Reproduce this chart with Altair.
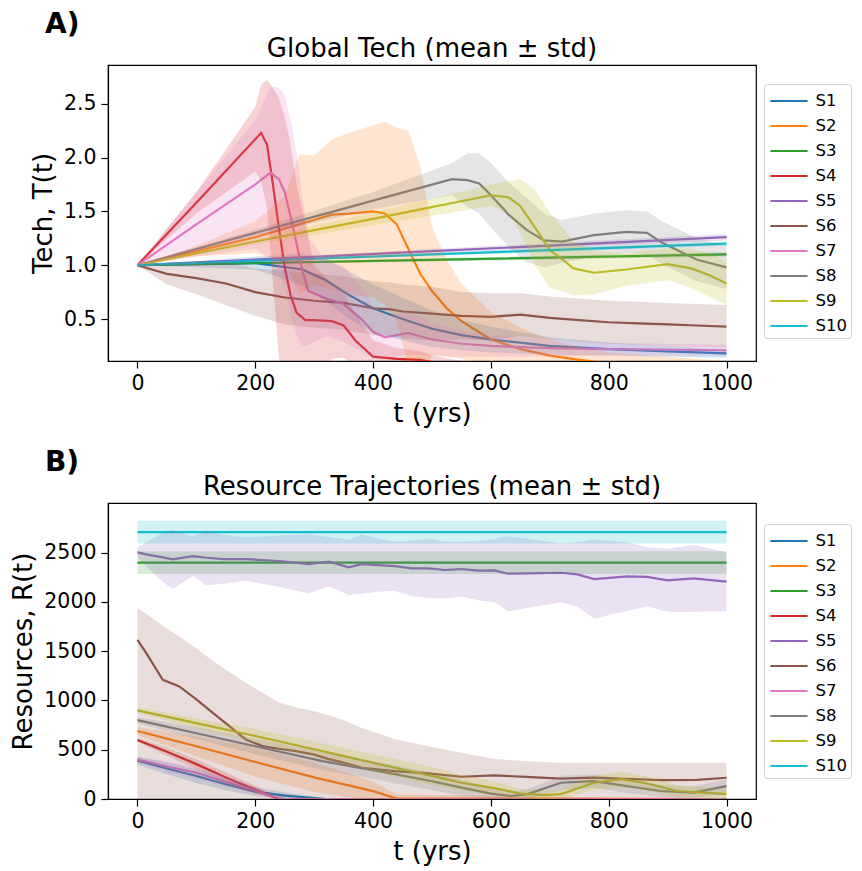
import altair as alt
import pandas as pd

SERIES = ["S1", "S2", "S3", "S4", "S5", "S6", "S7", "S8", "S9", "S10"]
COLORS = ["#1f77b4", "#ff7f0e", "#2ca02c", "#d62728", "#9467bd",
          "#8c564b", "#e377c2", "#7f7f7f", "#bcbd22", "#17becf"]

X_TICKS = [0, 200, 400, 600, 800, 1000]
A_Y_TICKS = [0.5, 1.0, 1.5, 2.0, 2.5]
B_Y_TICKS = [0, 500, 1000, 1500, 2000, 2500]

# ---------------- Panel A: Global Tech (mean, std) ----------------
A_T_S1 = [0, 100, 200, 240, 280, 320, 360, 400, 450, 500, 550, 600, 700, 800, 900, 1000]
A_M_S1 = [1.00, 1.01, 1.02, 0.99, 0.96, 0.86, 0.72, 0.60, 0.50, 0.41, 0.35, 0.31, 0.25, 0.22, 0.20, 0.18]
A_SD_S1 = [0.00, 0.03, 0.06, 0.10, 0.15, 0.20, 0.22, 0.22, 0.20, 0.17, 0.14, 0.12, 0.08, 0.06, 0.05, 0.04]

A_T_S2 = [0, 100, 200, 250, 275, 300, 330, 360, 400, 420, 440, 460, 480, 500, 525, 550, 600, 650, 700, 750, 800, 900, 1000]
A_M_S2 = [1.00, 1.13, 1.26, 1.34, 1.38, 1.42, 1.47, 1.48, 1.50, 1.48, 1.38, 1.15, 0.92, 0.76, 0.60, 0.48, 0.31, 0.22, 0.16, 0.12, 0.09, 0.07, 0.05]
A_SD_S2 = [0.00, 0.05, 0.15, 0.30, 0.65, 0.60, 0.70, 0.75, 0.80, 0.85, 0.90, 1.10, 1.00, 0.60, 0.45, 0.35, 0.25, 0.20, 0.15, 0.12, 0.10, 0.08, 0.06]

A_T_S3 = [0, 500, 1000]
A_M_S3 = [1.00, 1.05, 1.10]
A_SD_S3 = [0.00, 0.015, 0.02]

A_T_S4 = [0, 100, 200, 210, 220, 230, 240, 250, 260, 270, 285, 300, 330, 350, 370, 400, 440, 480, 500, 550, 1000]
A_M_S4 = [1.00, 1.58, 2.17, 2.23, 2.12, 1.75, 1.35, 0.98, 0.72, 0.56, 0.49, 0.49, 0.48, 0.44, 0.30, 0.15, 0.13, 0.12, 0.10, 0.06, 0.03]
A_SD_S4 = [0.00, 0.10, 0.30, 0.45, 0.60, 0.90, 1.20, 1.40, 1.40, 1.20, 0.90, 0.50, 0.35, 0.30, 0.25, 0.15, 0.10, 0.08, 0.06, 0.05, 0.03]

A_T_S5 = [0, 500, 1000]
A_M_S5 = [1.00, 1.13, 1.26]
A_SD_S5 = [0.00, 0.02, 0.03]

A_T_S6 = [0, 50, 100, 150, 200, 250, 300, 350, 400, 430, 450, 500, 550, 600, 650, 700, 750, 800, 850, 900, 950, 1000]
A_M_S6 = [1.00, 0.92, 0.88, 0.83, 0.75, 0.70, 0.67, 0.65, 0.60, 0.59, 0.57, 0.55, 0.53, 0.52, 0.54, 0.51, 0.49, 0.47, 0.46, 0.45, 0.44, 0.43]
A_SD_S6 = [0.00, 0.10, 0.15, 0.20, 0.22, 0.25, 0.25, 0.25, 0.25, 0.25, 0.25, 0.25, 0.22, 0.22, 0.20, 0.20, 0.20, 0.20, 0.20, 0.20, 0.20, 0.20]

A_T_S7 = [0, 100, 200, 226, 240, 250, 260, 270, 280, 290, 320, 350, 380, 400, 420, 460, 500, 550, 600, 700, 800, 1000]
A_M_S7 = [1.00, 1.38, 1.75, 1.86, 1.80, 1.68, 1.45, 1.20, 0.95, 0.76, 0.69, 0.64, 0.50, 0.38, 0.33, 0.37, 0.31, 0.27, 0.25, 0.23, 0.22, 0.21]
A_SD_S7 = [0.00, 0.30, 0.60, 0.80, 0.85, 0.90, 0.90, 0.85, 0.70, 0.50, 0.35, 0.35, 0.30, 0.25, 0.20, 0.20, 0.15, 0.12, 0.10, 0.08, 0.06, 0.05]

A_T_S8 = [0, 200, 400, 534, 560, 580, 600, 630, 660, 690, 720, 775, 830, 865, 890, 920, 950, 1000]
A_M_S8 = [1.00, 1.30, 1.60, 1.80, 1.79, 1.76, 1.65, 1.47, 1.33, 1.23, 1.22, 1.28, 1.31, 1.30, 1.21, 1.13, 1.05, 0.98]
A_SD_S8 = [0.00, 0.03, 0.08, 0.15, 0.25, 0.28, 0.30, 0.30, 0.30, 0.25, 0.20, 0.20, 0.20, 0.20, 0.20, 0.20, 0.20, 0.20]

A_T_S9 = [0, 200, 400, 600, 630, 650, 675, 700, 720, 740, 775, 830, 900, 940, 970, 1000]
A_M_S9 = [1.00, 1.22, 1.43, 1.65, 1.63, 1.55, 1.35, 1.14, 1.06, 0.97, 0.93, 0.96, 1.01, 0.97, 0.91, 0.83]
A_SD_S9 = [0.00, 0.03, 0.06, 0.10, 0.15, 0.25, 0.35, 0.35, 0.30, 0.25, 0.20, 0.15, 0.15, 0.18, 0.20, 0.20]

A_T_S10 = [0, 500, 1000]
A_M_S10 = [1.00, 1.10, 1.20]
A_SD_S10 = [0.00, 0.015, 0.02]

# ---------------- Panel B: Resources (mean, std) ----------------
B_T_S1 = [0, 50, 100, 150, 200, 250, 300, 320, 1000]
B_M_S1 = [390, 310, 233, 150, 75, 35, 10, 0, 0]
B_SD_S1 = [40, 60, 70, 60, 45, 30, 15, 0, 0]

B_T_S2 = [0, 100, 200, 300, 400, 440, 1000]
B_M_S2 = [690, 535, 375, 220, 80, 5, 0]
B_SD_S2 = [40, 100, 150, 150, 100, 40, 0]

B_T_S3 = [0, 500, 1000]
B_M_S3 = [2400, 2400, 2400]
B_SD_S3 = [115, 115, 115]

B_T_S4 = [0, 50, 100, 150, 200, 220, 240, 1000]
B_M_S4 = [600, 480, 354, 218, 95, 45, 0, 0]
B_SD_S4 = [20, 40, 50, 50, 40, 25, 0, 0]

B_T_S5 = [0, 15, 43, 60, 94, 117, 145, 184, 240, 291, 325, 359, 381, 409, 437, 466, 494, 522, 550, 578, 606, 629, 663, 719, 747, 775, 832, 865, 900, 944, 1000]
B_M_S5 = [2503, 2483, 2453, 2433, 2466, 2449, 2436, 2436, 2416, 2385, 2409, 2352, 2385, 2375, 2365, 2341, 2341, 2325, 2335, 2318, 2320, 2287, 2291, 2297, 2280, 2233, 2260, 2255, 2220, 2240, 2206]
B_SD_S5 = [50, 120, 250, 300, 200, 280, 250, 220, 260, 300, 250, 280, 300, 270, 250, 280, 300, 290, 280, 300, 320, 380, 350, 300, 330, 400, 350, 300, 320, 340, 300]

B_T_S6 = [0, 15, 43, 71, 100, 128, 156, 184, 212, 240, 269, 300, 325, 350, 381, 437, 494, 550, 606, 660, 719, 775, 830, 888, 950, 1000]
B_M_S6 = [1616, 1480, 1210, 1143, 1012, 874, 739, 604, 537, 510, 486, 450, 405, 370, 317, 283, 260, 226, 240, 225, 206, 216, 205, 192, 195, 216]
B_HI_S6 = [1937, 1880, 1760, 1650, 1530, 1400, 1290, 1180, 1080, 980, 930, 890, 850, 800, 720, 607, 536, 470, 405, 385, 368, 367, 367, 367, 367, 367]
B_LO_S6 = [0] * len(B_T_S6)

B_T_S7 = [0, 50, 100, 150, 200, 230, 250, 1000]
B_M_S7 = [400, 330, 266, 175, 85, 25, 0, 0]
B_SD_S7 = [30, 50, 60, 50, 35, 15, 0, 0]

B_T_S8 = [0, 100, 200, 314, 437, 500, 550, 600, 634, 662, 719, 775, 831, 888, 944, 1000]
B_M_S8 = [800, 668, 535, 385, 253, 180, 115, 55, 30, 50, 165, 182, 131, 81, 64, 131]
B_SD_S8 = [30, 60, 80, 90, 90, 90, 80, 60, 40, 50, 70, 70, 70, 60, 60, 70]

B_T_S9 = [0, 100, 200, 314, 437, 500, 550, 606, 650, 691, 719, 775, 821, 860, 916, 1000]
B_M_S9 = [900, 770, 640, 486, 317, 235, 165, 110, 55, 40, 50, 165, 202, 165, 81, 50]
B_SD_S9 = [30, 50, 70, 80, 90, 90, 80, 70, 50, 40, 50, 70, 80, 70, 60, 50]

B_T_S10 = [0, 500, 1000]
B_M_S10 = [2710, 2710, 2710]
B_SD_S10 = [115, 115, 115]


def sym(means, sds):
    return [m - s for m, s in zip(means, sds)], [m + s for m, s in zip(means, sds)]


A_SETS = [
    ("S1", A_T_S1, A_M_S1, *sym(A_M_S1, A_SD_S1)), ("S2", A_T_S2, A_M_S2, *sym(A_M_S2, A_SD_S2)),
    ("S3", A_T_S3, A_M_S3, *sym(A_M_S3, A_SD_S3)), ("S4", A_T_S4, A_M_S4, *sym(A_M_S4, A_SD_S4)),
    ("S5", A_T_S5, A_M_S5, *sym(A_M_S5, A_SD_S5)), ("S6", A_T_S6, A_M_S6, *sym(A_M_S6, A_SD_S6)),
    ("S7", A_T_S7, A_M_S7, *sym(A_M_S7, A_SD_S7)), ("S8", A_T_S8, A_M_S8, *sym(A_M_S8, A_SD_S8)),
    ("S9", A_T_S9, A_M_S9, *sym(A_M_S9, A_SD_S9)), ("S10", A_T_S10, A_M_S10, *sym(A_M_S10, A_SD_S10)),
]
B_SETS = [
    ("S1", B_T_S1, B_M_S1, *sym(B_M_S1, B_SD_S1)), ("S2", B_T_S2, B_M_S2, *sym(B_M_S2, B_SD_S2)),
    ("S3", B_T_S3, B_M_S3, *sym(B_M_S3, B_SD_S3)), ("S4", B_T_S4, B_M_S4, *sym(B_M_S4, B_SD_S4)),
    ("S5", B_T_S5, B_M_S5, *sym(B_M_S5, B_SD_S5)), ("S6", B_T_S6, B_M_S6, B_LO_S6, B_HI_S6),
    ("S7", B_T_S7, B_M_S7, *sym(B_M_S7, B_SD_S7)), ("S8", B_T_S8, B_M_S8, *sym(B_M_S8, B_SD_S8)),
    ("S9", B_T_S9, B_M_S9, *sym(B_M_S9, B_SD_S9)), ("S10", B_T_S10, B_M_S10, *sym(B_M_S10, B_SD_S10)),
]


def to_frame(sets):
    rows = []
    for name, ts, ms, los, his in sets:
        for t, m, lo, hi in zip(ts, ms, los, his):
            rows.append({"series": name, "t": t, "mean": m, "lo": lo, "hi": hi})
    return pd.DataFrame(rows)


FONT = "DejaVu Sans"
W, H = 648, 296


def panel(df, letter, title, ylab, ydom, yticks, yfmt, legend_y):
    cscale = alt.Scale(domain=SERIES, range=COLORS)
    legend = alt.Legend(
        title=None, orient="none", legendX=W + 8, legendY=legend_y,
        symbolType="M-1.55,0H1.55", symbolSize=576, symbolStrokeWidth=2.2,
        symbolOpacity=1, symbolOffset=8, labelFontSize=16.5, labelFont=FONT,
        labelColor="black", labelOffset=13, strokeColor="#d0d0d0",
        fillColor="white", padding=3.5, cornerRadius=3, rowPadding=3)
    xenc = alt.X("t:Q", scale=alt.Scale(domain=[-50, 1050], nice=False, zero=False),
                 axis=alt.Axis(values=X_TICKS, title="t (yrs)", format="d"))
    yaxis = alt.Axis(values=yticks, title=ylab, format=yfmt)
    yscale = alt.Scale(domain=ydom, nice=False, zero=False)
    base = alt.Chart(df)
    lines = base.mark_line(strokeWidth=2.2, clip=True).encode(
        x=xenc,
        y=alt.Y("mean:Q", scale=yscale, axis=yaxis),
        color=alt.Color("series:N", scale=cscale, legend=legend),
        detail="series:N",
    )
    bands = base.mark_area(opacity=0.2, clip=True).encode(
        x=xenc,
        y=alt.Y("lo:Q", scale=yscale, axis=yaxis),
        y2="hi:Q",
        color=alt.Color("series:N", scale=cscale, legend=legend),
        detail="series:N",
    )
    lab = alt.Chart(pd.DataFrame({"lab": [letter]})).mark_text(
        font=FONT, fontWeight="bold", fontSize=28, align="left",
        baseline="alphabetic", color="black").encode(
        text="lab:N", x=alt.value(-63), y=alt.value(-32))
    ttl = alt.Chart(pd.DataFrame({"lab": [title]})).mark_text(
        font=FONT, fontSize=26, align="center",
        baseline="alphabetic", color="black").encode(
        text="lab:N", x=alt.value(W / 2), y=alt.value(-8))
    return alt.layer(lines, bands, lab, ttl).properties(width=W, height=H)


top = panel(to_frame(A_SETS), "A)", "Global Tech (mean ± std)", "Tech, T(t)",
            [0.11, 2.86], A_Y_TICKS, ".1f", 19)
bottom = panel(to_frame(B_SETS), "B)", "Resource Trajectories (mean ± std)",
               "Resources, R(t)", [0, 3005], B_Y_TICKS, "d", 21)

chart = alt.vconcat(top, bottom, spacing=20).resolve_scale(
    color="independent").resolve_legend(color="independent").configure(
    padding={"left": 2, "top": 2, "right": 0, "bottom": 0},
    background="white",
).configure_view(stroke="black", strokeWidth=1.2).configure_axis(
    grid=False, labelFont=FONT, titleFont=FONT, labelFontSize=20.5,
    titleFontSize=26, titleFontWeight="normal", labelColor="black",
    titleColor="black", tickColor="black", domainColor="black",
    tickSize=7, tickWidth=1.2, domainWidth=1.2, labelPadding=5, titlePadding=7,
)

chart.save("out.html", embed_options={"renderer": "svg", "actions": False})
